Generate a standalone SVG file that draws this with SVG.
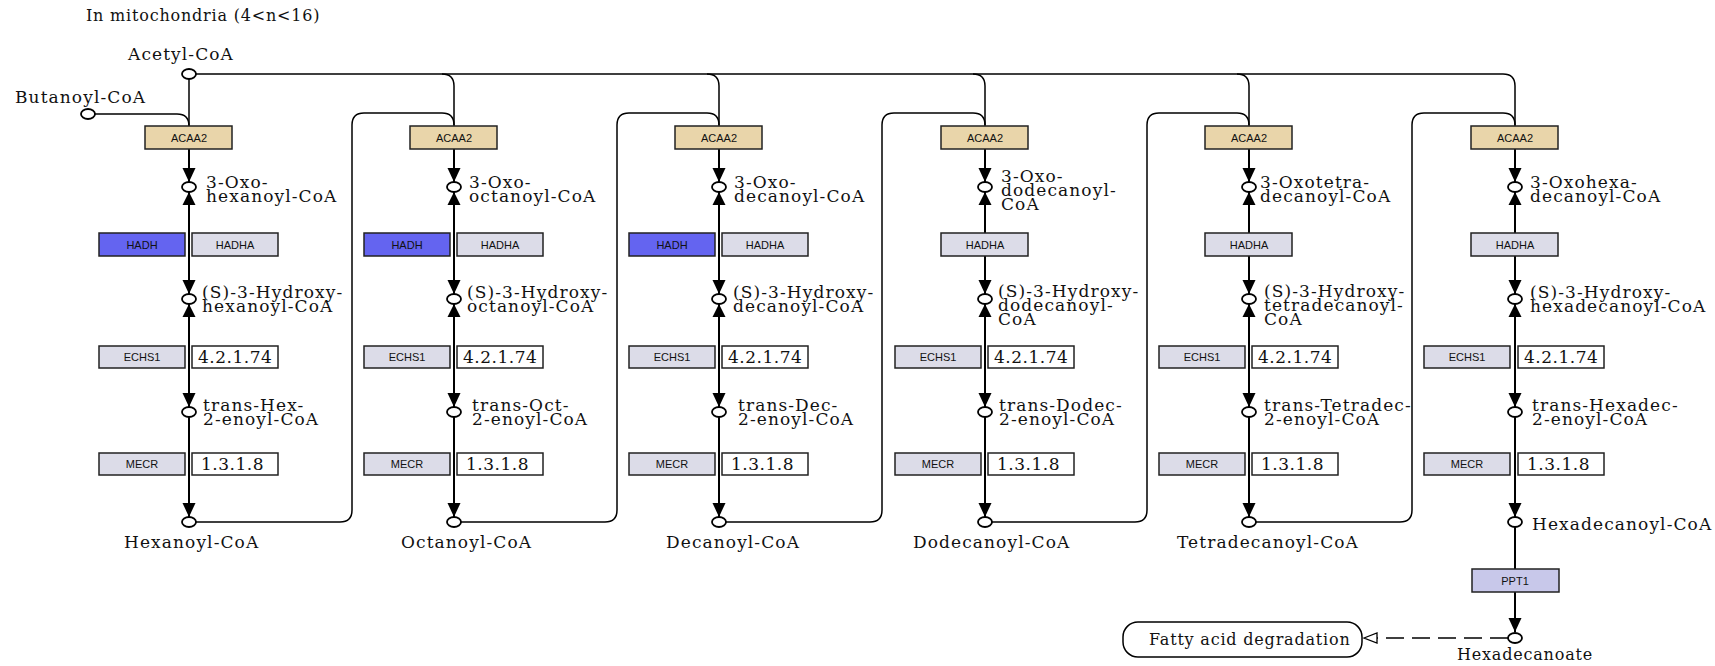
<svg xmlns="http://www.w3.org/2000/svg" xmlns:xlink="http://www.w3.org/1999/xlink" width="1715" height="666" viewBox="0 0 1715 666">
<style>
.lbl{font-family:"DejaVu Serif","Liberation Serif",serif;font-size:17px;letter-spacing:1.1px;fill:#111}
.sm{font-size:16px;letter-spacing:0.8px}
.ec{font-family:"DejaVu Serif","Liberation Serif",serif;font-size:17px;letter-spacing:0.5px;fill:#111}
.gn{font-family:"Liberation Sans",Arial,sans-serif;font-size:11px;text-anchor:middle;fill:#111}
.box{stroke:#222;stroke-width:1.5}
.acaa{fill:#e9d5aa}
.hadh{fill:#6464f0}
.grey{fill:#dcdce8}
.ppt{fill:#c8c8ea}
.ecb{fill:#fff}
.rx{fill:none;stroke:#000;stroke-width:2}
.ln{fill:none;stroke:#000;stroke-width:1.5}
.dash{fill:none;stroke:#000;stroke-width:1.5;stroke-dasharray:18 8}
.cpd{fill:#fff;stroke:#000;stroke-width:1.8}
.map{fill:#fff;stroke:#000;stroke-width:1.5}
</style>
<defs>
<path id="ad" d="M0,0 L-6.5,-14 L6.5,-14 Z" fill="#000"/>
<path id="au" d="M0,0 L-6.5,13 L6.5,13 Z" fill="#000"/>
<ellipse id="cc" cx="0" cy="0" rx="7" ry="5" class="cpd"/>
</defs>
<rect width="1715" height="666" fill="#fff"/>
<text class="lbl sm" x="86" y="21">In mitochondria (4&lt;n&lt;16)</text>

<g id="connectors">
<path class="ln" d="M189,79 V126"/>
<path class="ln" d="M196,74 H1503 Q1515,74 1515,86 V126"/>
<path class="ln" d="M442,74 Q454,74 454,86 V126"/>
<path class="ln" d="M707,74 Q719,74 719,86 V126"/>
<path class="ln" d="M973,74 Q985,74 985,86 V126"/>
<path class="ln" d="M1237,74 Q1249,74 1249,86 V126"/>
<path class="ln" d="M95,114 H177 Q189,114 189,126"/>
<path class="ln" d="M196,522 H340 Q352,522 352,510 V125 Q352,113 364,113 H442 Q454,113 454,125"/>
<path class="ln" d="M461,522 H605 Q617,522 617,510 V125 Q617,113 629,113 H707 Q719,113 719,125"/>
<path class="ln" d="M726,522 H870 Q882,522 882,510 V125 Q882,113 894,113 H973 Q985,113 985,125"/>
<path class="ln" d="M992,522 H1135 Q1147,522 1147,510 V125 Q1147,113 1159,113 H1237 Q1249,113 1249,125"/>
<path class="ln" d="M1256,522 H1400 Q1412,522 1412,510 V125 Q1412,113 1424,113 H1503 Q1515,113 1515,125"/>
<path class="rx" d="M189,149 V517"/>
<path class="rx" d="M454,149 V517"/>
<path class="rx" d="M719,149 V517"/>
<path class="rx" d="M985,149 V517"/>
<path class="rx" d="M1249,149 V517"/>
<path class="rx" d="M1515,149 V632"/>
<path class="dash" d="M1508,638 H1377"/>
<path d="M1364,638 L1377,633 L1377,643 Z" fill="#fff" stroke="#000" stroke-width="1.3"/>
<use xlink:href="#ad" x="189" y="182"/><use xlink:href="#au" x="189" y="192"/><use xlink:href="#ad" x="189" y="294"/><use xlink:href="#au" x="189" y="304"/><use xlink:href="#ad" x="189" y="407"/><use xlink:href="#ad" x="189" y="517"/>
<use xlink:href="#ad" x="454" y="182"/><use xlink:href="#au" x="454" y="192"/><use xlink:href="#ad" x="454" y="294"/><use xlink:href="#au" x="454" y="304"/><use xlink:href="#ad" x="454" y="407"/><use xlink:href="#ad" x="454" y="517"/>
<use xlink:href="#ad" x="719" y="182"/><use xlink:href="#au" x="719" y="192"/><use xlink:href="#ad" x="719" y="294"/><use xlink:href="#au" x="719" y="304"/><use xlink:href="#ad" x="719" y="407"/><use xlink:href="#ad" x="719" y="517"/>
<use xlink:href="#ad" x="985" y="182"/><use xlink:href="#au" x="985" y="192"/><use xlink:href="#ad" x="985" y="294"/><use xlink:href="#au" x="985" y="304"/><use xlink:href="#ad" x="985" y="407"/><use xlink:href="#ad" x="985" y="517"/>
<use xlink:href="#ad" x="1249" y="182"/><use xlink:href="#au" x="1249" y="192"/><use xlink:href="#ad" x="1249" y="294"/><use xlink:href="#au" x="1249" y="304"/><use xlink:href="#ad" x="1249" y="407"/><use xlink:href="#ad" x="1249" y="517"/>
<use xlink:href="#ad" x="1515" y="182"/><use xlink:href="#au" x="1515" y="192"/><use xlink:href="#ad" x="1515" y="294"/><use xlink:href="#au" x="1515" y="304"/><use xlink:href="#ad" x="1515" y="407"/><use xlink:href="#ad" x="1515" y="517"/><use xlink:href="#ad" x="1515" y="632"/>
</g>

<g id="acetyl-coa"><use xlink:href="#cc" x="189" y="74"/><text class="lbl" x="128" y="60">Acetyl-CoA</text></g>
<g id="butanoyl-coa"><use xlink:href="#cc" x="88" y="114"/><text class="lbl" x="15" y="103">Butanoyl-CoA</text></g>

<g id="col1-acaa2"><rect class="box acaa" x="145" y="126" width="87" height="23"/><text class="gn" x="189" y="141.5">ACAA2</text></g>
<g id="col1-oxo"><use xlink:href="#cc" x="189" y="187"/><text class="lbl" x="206" y="188">3-Oxo-</text><text class="lbl" x="206" y="202">hexanoyl-CoA</text></g>
<g id="col1-hadh"><rect class="box hadh" x="99" y="233" width="86" height="23"/><text class="gn" x="142" y="248.5">HADH</text></g>
<g id="col1-hadha"><rect class="box grey" x="192" y="233" width="86" height="23"/><text class="gn" x="235" y="248.5">HADHA</text></g>
<g id="col1-hyd"><use xlink:href="#cc" x="189" y="299"/><text class="lbl" x="202" y="298">(S)-3-Hydroxy-</text><text class="lbl" x="202" y="312">hexanoyl-CoA</text></g>
<g id="col1-echs1"><rect class="box grey" x="99" y="346" width="86" height="22"/><text class="gn" x="142" y="361">ECHS1</text></g>
<g id="col1-ec42174"><rect class="box ecb" x="192" y="346" width="86" height="22"/><text class="ec" x="198" y="363">4.2.1.74</text></g>
<g id="col1-trans"><use xlink:href="#cc" x="189" y="412"/><text class="lbl" x="203" y="411">trans-Hex-</text><text class="lbl" x="203" y="425">2-enoyl-CoA</text></g>
<g id="col1-mecr"><rect class="box grey" x="99" y="453" width="86" height="22"/><text class="gn" x="142" y="468">MECR</text></g>
<g id="col1-ec1318"><rect class="box ecb" x="192" y="453" width="86" height="22"/><text class="ec" x="201" y="470">1.3.1.8</text></g>
<g id="col1-acyl"><use xlink:href="#cc" x="189" y="522"/><text class="lbl" x="124" y="548">Hexanoyl-CoA</text></g>

<g id="col2-acaa2"><rect class="box acaa" x="410" y="126" width="87" height="23"/><text class="gn" x="454" y="141.5">ACAA2</text></g>
<g id="col2-oxo"><use xlink:href="#cc" x="454" y="187"/><text class="lbl" x="469" y="188">3-Oxo-</text><text class="lbl" x="469" y="202">octanoyl-CoA</text></g>
<g id="col2-hadh"><rect class="box hadh" x="364" y="233" width="86" height="23"/><text class="gn" x="407" y="248.5">HADH</text></g>
<g id="col2-hadha"><rect class="box grey" x="457" y="233" width="86" height="23"/><text class="gn" x="500" y="248.5">HADHA</text></g>
<g id="col2-hyd"><use xlink:href="#cc" x="454" y="299"/><text class="lbl" x="467" y="298">(S)-3-Hydroxy-</text><text class="lbl" x="467" y="312">octanoyl-CoA</text></g>
<g id="col2-echs1"><rect class="box grey" x="364" y="346" width="86" height="22"/><text class="gn" x="407" y="361">ECHS1</text></g>
<g id="col2-ec42174"><rect class="box ecb" x="457" y="346" width="86" height="22"/><text class="ec" x="463" y="363">4.2.1.74</text></g>
<g id="col2-trans"><use xlink:href="#cc" x="454" y="412"/><text class="lbl" x="472" y="411">trans-Oct-</text><text class="lbl" x="472" y="425">2-enoyl-CoA</text></g>
<g id="col2-mecr"><rect class="box grey" x="364" y="453" width="86" height="22"/><text class="gn" x="407" y="468">MECR</text></g>
<g id="col2-ec1318"><rect class="box ecb" x="457" y="453" width="86" height="22"/><text class="ec" x="466" y="470">1.3.1.8</text></g>
<g id="col2-acyl"><use xlink:href="#cc" x="454" y="522"/><text class="lbl" x="401" y="548">Octanoyl-CoA</text></g>

<g id="col3-acaa2"><rect class="box acaa" x="675" y="126" width="87" height="23"/><text class="gn" x="719" y="141.5">ACAA2</text></g>
<g id="col3-oxo"><use xlink:href="#cc" x="719" y="187"/><text class="lbl" x="734" y="188">3-Oxo-</text><text class="lbl" x="734" y="202">decanoyl-CoA</text></g>
<g id="col3-hadh"><rect class="box hadh" x="629" y="233" width="86" height="23"/><text class="gn" x="672" y="248.5">HADH</text></g>
<g id="col3-hadha"><rect class="box grey" x="722" y="233" width="86" height="23"/><text class="gn" x="765" y="248.5">HADHA</text></g>
<g id="col3-hyd"><use xlink:href="#cc" x="719" y="299"/><text class="lbl" x="733" y="298">(S)-3-Hydroxy-</text><text class="lbl" x="733" y="312">decanoyl-CoA</text></g>
<g id="col3-echs1"><rect class="box grey" x="629" y="346" width="86" height="22"/><text class="gn" x="672" y="361">ECHS1</text></g>
<g id="col3-ec42174"><rect class="box ecb" x="722" y="346" width="86" height="22"/><text class="ec" x="728" y="363">4.2.1.74</text></g>
<g id="col3-trans"><use xlink:href="#cc" x="719" y="412"/><text class="lbl" x="738" y="411">trans-Dec-</text><text class="lbl" x="738" y="425">2-enoyl-CoA</text></g>
<g id="col3-mecr"><rect class="box grey" x="629" y="453" width="86" height="22"/><text class="gn" x="672" y="468">MECR</text></g>
<g id="col3-ec1318"><rect class="box ecb" x="722" y="453" width="86" height="22"/><text class="ec" x="731" y="470">1.3.1.8</text></g>
<g id="col3-acyl"><use xlink:href="#cc" x="719" y="522"/><text class="lbl" x="666" y="548">Decanoyl-CoA</text></g>

<g id="col4-acaa2"><rect class="box acaa" x="941" y="126" width="87" height="23"/><text class="gn" x="985" y="141.5">ACAA2</text></g>
<g id="col4-oxo"><use xlink:href="#cc" x="985" y="187"/><text class="lbl" x="1001" y="182">3-Oxo-</text><text class="lbl" x="1001" y="196">dodecanoyl-</text><text class="lbl" x="1001" y="210">CoA</text></g>
<g id="col4-hadha"><rect class="box grey" x="941" y="233" width="87" height="23"/><text class="gn" x="985" y="248.5">HADHA</text></g>
<g id="col4-hyd"><use xlink:href="#cc" x="985" y="299"/><text class="lbl" x="998" y="297">(S)-3-Hydroxy-</text><text class="lbl" x="998" y="311">dodecanoyl-</text><text class="lbl" x="998" y="325">CoA</text></g>
<g id="col4-echs1"><rect class="box grey" x="895" y="346" width="86" height="22"/><text class="gn" x="938" y="361">ECHS1</text></g>
<g id="col4-ec42174"><rect class="box ecb" x="988" y="346" width="86" height="22"/><text class="ec" x="994" y="363">4.2.1.74</text></g>
<g id="col4-trans"><use xlink:href="#cc" x="985" y="412"/><text class="lbl" x="999" y="411">trans-Dodec-</text><text class="lbl" x="999" y="425">2-enoyl-CoA</text></g>
<g id="col4-mecr"><rect class="box grey" x="895" y="453" width="86" height="22"/><text class="gn" x="938" y="468">MECR</text></g>
<g id="col4-ec1318"><rect class="box ecb" x="988" y="453" width="86" height="22"/><text class="ec" x="997" y="470">1.3.1.8</text></g>
<g id="col4-acyl"><use xlink:href="#cc" x="985" y="522"/><text class="lbl" x="913" y="548">Dodecanoyl-CoA</text></g>

<g id="col5-acaa2"><rect class="box acaa" x="1205" y="126" width="87" height="23"/><text class="gn" x="1249" y="141.5">ACAA2</text></g>
<g id="col5-oxo"><use xlink:href="#cc" x="1249" y="187"/><text class="lbl" x="1260" y="188">3-Oxotetra-</text><text class="lbl" x="1260" y="202">decanoyl-CoA</text></g>
<g id="col5-hadha"><rect class="box grey" x="1205" y="233" width="87" height="23"/><text class="gn" x="1249" y="248.5">HADHA</text></g>
<g id="col5-hyd"><use xlink:href="#cc" x="1249" y="299"/><text class="lbl" x="1264" y="297">(S)-3-Hydroxy-</text><text class="lbl" x="1264" y="311">tetradecanoyl-</text><text class="lbl" x="1264" y="325">CoA</text></g>
<g id="col5-echs1"><rect class="box grey" x="1159" y="346" width="86" height="22"/><text class="gn" x="1202" y="361">ECHS1</text></g>
<g id="col5-ec42174"><rect class="box ecb" x="1252" y="346" width="86" height="22"/><text class="ec" x="1258" y="363">4.2.1.74</text></g>
<g id="col5-trans"><use xlink:href="#cc" x="1249" y="412"/><text class="lbl" x="1264" y="411">trans-Tetradec-</text><text class="lbl" x="1264" y="425">2-enoyl-CoA</text></g>
<g id="col5-mecr"><rect class="box grey" x="1159" y="453" width="86" height="22"/><text class="gn" x="1202" y="468">MECR</text></g>
<g id="col5-ec1318"><rect class="box ecb" x="1252" y="453" width="86" height="22"/><text class="ec" x="1261" y="470">1.3.1.8</text></g>
<g id="col5-acyl"><use xlink:href="#cc" x="1249" y="522"/><text class="lbl" x="1177" y="548">Tetradecanoyl-CoA</text></g>

<g id="col6-acaa2"><rect class="box acaa" x="1471" y="126" width="87" height="23"/><text class="gn" x="1515" y="141.5">ACAA2</text></g>
<g id="col6-oxo"><use xlink:href="#cc" x="1515" y="187"/><text class="lbl" x="1530" y="188">3-Oxohexa-</text><text class="lbl" x="1530" y="202">decanoyl-CoA</text></g>
<g id="col6-hadha"><rect class="box grey" x="1471" y="233" width="87" height="23"/><text class="gn" x="1515" y="248.5">HADHA</text></g>
<g id="col6-hyd"><use xlink:href="#cc" x="1515" y="299"/><text class="lbl" x="1530" y="298">(S)-3-Hydroxy-</text><text class="lbl" x="1530" y="312">hexadecanoyl-CoA</text></g>
<g id="col6-echs1"><rect class="box grey" x="1424" y="346" width="86" height="22"/><text class="gn" x="1467" y="361">ECHS1</text></g>
<g id="col6-ec42174"><rect class="box ecb" x="1518" y="346" width="86" height="22"/><text class="ec" x="1524" y="363">4.2.1.74</text></g>
<g id="col6-trans"><use xlink:href="#cc" x="1515" y="412"/><text class="lbl" x="1532" y="411">trans-Hexadec-</text><text class="lbl" x="1532" y="425">2-enoyl-CoA</text></g>
<g id="col6-mecr"><rect class="box grey" x="1424" y="453" width="86" height="22"/><text class="gn" x="1467" y="468">MECR</text></g>
<g id="col6-ec1318"><rect class="box ecb" x="1518" y="453" width="86" height="22"/><text class="ec" x="1527" y="470">1.3.1.8</text></g>
<g id="col6-acyl"><use xlink:href="#cc" x="1515" y="522"/><text class="lbl" x="1532" y="530">Hexadecanoyl-CoA</text></g>
<g id="ppt1"><rect class="box ppt" x="1472" y="569" width="87" height="23"/><text class="gn" x="1515" y="584.5">PPT1</text></g>
<g id="hexadecanoate"><use xlink:href="#cc" x="1515" y="638"/><text class="lbl sm" x="1457" y="660">Hexadecanoate</text></g>
<g id="map-fatty-acid-degradation"><rect class="map" x="1123" y="622" width="239" height="35" rx="15"/><text class="lbl sm" x="1149" y="645">Fatty acid degradation</text></g>
</svg>
